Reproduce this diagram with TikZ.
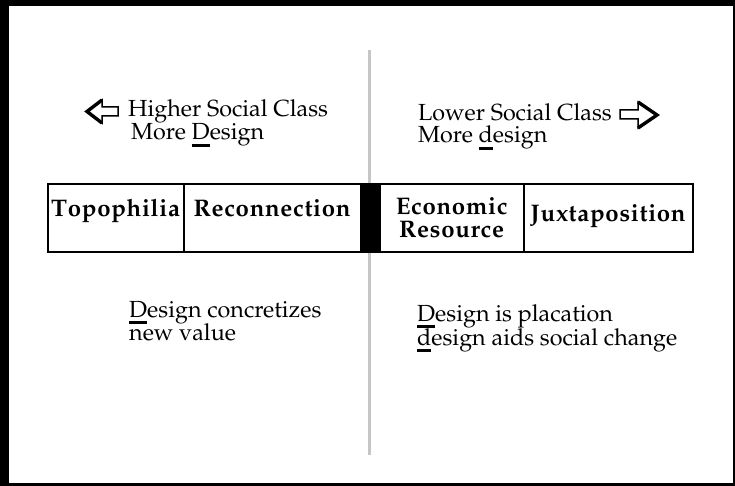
\documentclass[tikz,border=0pt]{standalone}
\usepackage[T1]{fontenc}
\usepackage{mathpazo}
\usetikzlibrary{positioning}

% letter-spaced bold for the table cells
\makeatletter
\def\cellspaced#1{\cell@sp#1\@nil}
\def\cell@sp#1{\ifx#1\@nil\else#1\kern0.7pt\expandafter\cell@sp\fi}
\makeatother
% heavy bar under a single letter
\newcommand\heavyul[1]{\sbox0{#1}\rlap{\rule[-7pt]{\wd0}{3pt}}\usebox0}

\begin{document}
\begin{tikzpicture}[x=1pt, y=-1pt, line join=miter]
    \tikzstyle{cell}=[draw, line width=1.3pt, outer sep=0pt, inner sep=0pt, minimum height=68pt, font=\fontsize{24}{23}\selectfont\bfseries, text height=8pt, text depth=12pt]
    \tikzstyle{remark}=[anchor=base west, inner sep=0pt, font=\fontsize{23.3}{23}\selectfont]
    \tikzstyle{hollowarrow}=[line width=1.5pt]
    \tikzstyle{arrowhead}=[line width=3.4pt]

    % scanned page frame
    \fill[black] (0,0) rectangle (735,486);
    \fill[white] (9,6) rectangle (733,483);

    % centre divide
    \draw[gray!45, line width=3pt] (369,50) -- (369,455);

    % header texts and arrows
    \node[remark] (higher) at (128,117) {Higher Social Class};
    \node[remark] (moreDesign) at (131,140) {More \heavyul{D}esign};
    \node[remark] (lower) at (418,121) {Lower Social Class};
    \node[remark] (moreLower) at (418,143) {More \heavyul{d}esign};

    \draw[hollowarrow] (118,107) -- (102,107) -- (102,100) -- (87,111.5) -- (102,123) -- (102,116) -- (118,116) -- cycle;
    \draw[arrowhead] (102,100) -- (87,111.5) -- (102,123);
    \draw[hollowarrow] (620,110) -- (638,110) -- (638,102) -- (657,115) -- (638,128) -- (638,119) -- (620,119) -- cycle;
    \draw[arrowhead] (638,102) -- (657,115) -- (638,128);

    % row of cells
    \node[cell, minimum width=136pt] (topophilia) at (116,218) {\cellspaced{Topophilia}};
    \node[cell, minimum width=177pt, right=0pt of topophilia] (reconnection) {\cellspaced{Reconnection}};
    \node[cell, fill=black, minimum width=19pt, right=0pt of reconnection] (divider) {};
    \node[cell, minimum width=144pt, right=0pt of divider, align=center, text height={}, text depth={}] (economic) {\cellspaced{Economic}\\\cellspaced{Resource}};
    \node[cell, minimum width=169pt, right=0pt of economic, text height=14pt, text depth=6pt] (juxtaposition) {\cellspaced{Juxtaposition}};

    % lower texts
    \node[remark] (concretizes) at (129,317) {\heavyul{D}esign concretizes};
    \node[remark] (newValue) at (129,340) {new value};
    \node[remark] (placation) at (417,321) {\heavyul{D}esign is placation};
    \node[remark] (socialChange) at (417,345) {\heavyul{d}esign aids social change};
\end{tikzpicture}
\end{document}
